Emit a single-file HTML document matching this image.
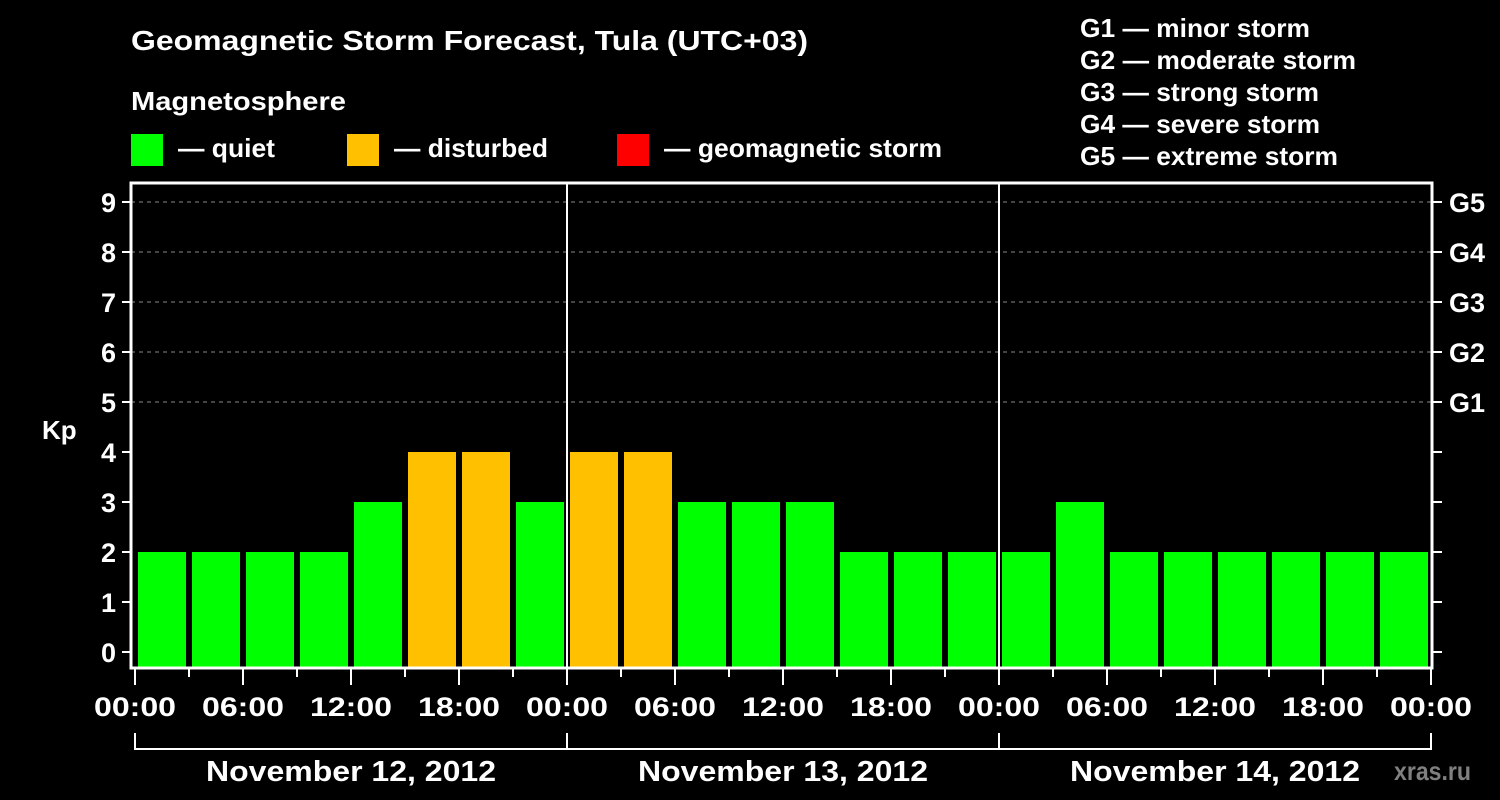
<!DOCTYPE html>
<html><head><meta charset="utf-8"><style>
html,body{margin:0;padding:0;background:#000;}
svg{display:block;font-family:"Liberation Sans",sans-serif;font-weight:bold;}
</style></head><body>
<svg id="c" width="1500" height="800" viewBox="0 0 1500 800">
<rect width="1500" height="800" fill="#000"/>
<g fill="#fff" font-size="26">
<text x="131" y="50" font-size="28" textLength="677" lengthAdjust="spacingAndGlyphs">Geomagnetic Storm Forecast, Tula (UTC+03)</text>
<text x="131" y="110" textLength="215" lengthAdjust="spacingAndGlyphs">Magnetosphere</text>
<rect x="131" y="134" width="32" height="32" fill="#00ff00"/>
<text x="178" y="157" textLength="97" lengthAdjust="spacingAndGlyphs">— quiet</text>
<rect x="347" y="134" width="32" height="32" fill="#ffc000"/>
<text x="394" y="157" textLength="154" lengthAdjust="spacingAndGlyphs">— disturbed</text>
<rect x="617" y="134" width="32" height="32" fill="#ff0000"/>
<text x="664" y="157" textLength="278" lengthAdjust="spacingAndGlyphs">— geomagnetic storm</text>
<text x="1080" y="37" textLength="230" lengthAdjust="spacingAndGlyphs">G1 — minor storm</text>
<text x="1080" y="69" textLength="276" lengthAdjust="spacingAndGlyphs">G2 — moderate storm</text>
<text x="1080" y="101" textLength="239" lengthAdjust="spacingAndGlyphs">G3 — strong storm</text>
<text x="1080" y="133" textLength="240" lengthAdjust="spacingAndGlyphs">G4 — severe storm</text>
<text x="1080" y="165" textLength="258" lengthAdjust="spacingAndGlyphs">G5 — extreme storm</text>
<text x="42" y="439">Kp</text>
<text x="1471" y="780" fill="#808080" text-anchor="end" textLength="77" lengthAdjust="spacingAndGlyphs">xras.ru</text>
</g>
<g id="plot"></g>
</svg>
<script>
const kpValues=[2,2,2,2,3,4,4,3, 4,4,3,3,3,2,2,2, 2,3,2,2,2,2,2,2];
const yTicks=[0,1,2,3,4,5,6,7,8,9];
const gLabels=["G1","G2","G3","G4","G5"];
const xTickLabels=["00:00","06:00","12:00","18:00","00:00","06:00","12:00","18:00","00:00","06:00","12:00","18:00","00:00"];
const dayLabels=["November 12, 2012","November 13, 2012","November 14, 2012"];
const NS="http://www.w3.org/2000/svg";
const g=document.getElementById('plot');
const X0=135,DAYW=432,L=131,R=1432,T=183,B=668;
const x=h=>X0+h/24*DAYW;           // hours -> px
const y=v=>652-v*50;
function mk(t,a,p){const e=document.createElementNS(NS,t);for(const k in a)e.setAttribute(k,a[k]);(p||g).appendChild(e);return e;}
yTicks.forEach(v=>{if(v>=5){const l=mk('line',{x1:L,x2:R,y1:y(v),y2:y(v),stroke:'#888','stroke-dasharray':'4,4','stroke-width':1});

}});
kpValues.forEach((v,i)=>{const x1=x(i*3)+3,x2=x(i*3+3)-3;
const c=v>=5?'#ff0000':(v>=4?'#ffc000':'#00ff00');
const r=mk('rect',{x:x1,y:y(v),width:x2-x1,height:B-1-y(v),fill:c});

});
[1,2].forEach(d=>{const l=mk('line',{x1:x(d*24),x2:x(d*24),y1:T,y2:B,stroke:'#fff','stroke-width':2});

});
const f=mk('rect',{x:L,y:T,width:R-L,height:B-T,fill:'none',stroke:'#fff','stroke-width':3});


yTicks.forEach(v=>{mk('line',{x1:122,x2:L,y1:y(v),y2:y(v),stroke:'#fff','stroke-width':2});
mk('line',{x1:R,x2:1442,y1:y(v),y2:y(v),stroke:'#fff','stroke-width':2});
const t=mk('text',{x:116,y:y(v)+10,fill:'#fff','font-size':27,'text-anchor':'end'});t.textContent=v;

});
gLabels.forEach((s,i)=>{const t=mk('text',{x:1449,y:y(5+i)+10,fill:'#fff','font-size':27});t.textContent=s;

});
for(let h=0;h<=72;h+=3){const major=h%6===0;
mk('line',{x1:x(h),x2:x(h),y1:B,y2:major?685:677,stroke:'#fff','stroke-width':2});}
xTickLabels.forEach((s,i)=>{const t=mk('text',{x:x(i*6),y:716,fill:'#fff','font-size':27,'text-anchor':'middle',textLength:82,lengthAdjust:'spacingAndGlyphs'});t.textContent=s;

});
mk('line',{x1:x(0),x2:x(72),y1:749,y2:749,stroke:'#fff','stroke-width':2});
for(let d=0;d<=3;d++)mk('line',{x1:x(d*24),x2:x(d*24),y1:733,y2:750,stroke:'#fff','stroke-width':2});
dayLabels.forEach((s,i)=>{const t=mk('text',{x:x(i*24+12),y:781,fill:'#fff','font-size':29,'text-anchor':'middle',textLength:290,lengthAdjust:'spacingAndGlyphs'});t.textContent=s;

});
</script>
</body></html>
